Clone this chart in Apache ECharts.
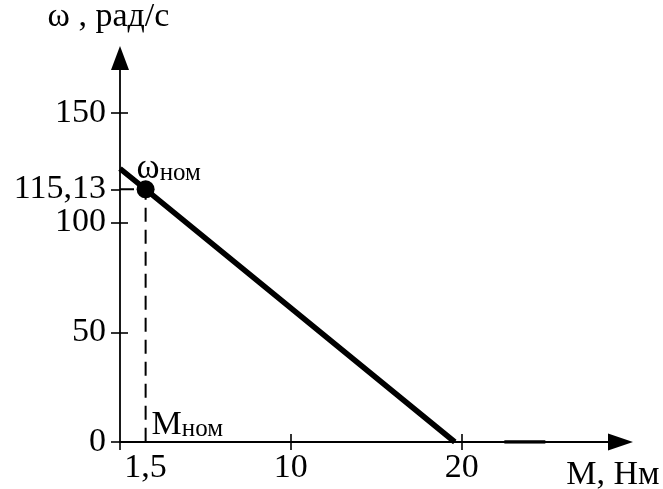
<!DOCTYPE html>
<html>
<head>
<meta charset="utf-8">
<script src="https://cdn.jsdelivr.net/npm/echarts@6/dist/echarts.min.js"></script>
<style>
  html, body { margin: 0; padding: 0; background: #fff; }
  #chart { width: 663px; height: 489px; }
</style>
</head>
<body>
<div id="chart"></div>
<script>
// Mechanical characteristic ω(M) of the motor
const torqueLine = [0, 1.5, 19.6];            // M, Нм
const speedLine = [124.6, 115.13, 0];          // ω, рад/с
const nominalTorque = 1.5;                     // Mном
const nominalSpeed = 115.13;                   // ωном

// Tick labels on each axis
const xTickLabels = [1.5, 10, 20];
const yTickLabels = [0, 50, 100, 115.13, 150];

// short heavier stroke lying on the torque axis
const axisStroke = [22.5, 24.9];

const serif = 'Liberation Serif';
const black = '#000';
const fmt = v => String(v).replace('.', ',');

const chart = echarts.init(document.getElementById('chart'), null, { renderer: 'canvas' });

const xRange = { min: 0, max: 29.3 };
const yRange = { min: 0, max: 175 };
const tickStyle = { color: black, width: 1.6 };

chart.setOption({
  animation: false,
  backgroundColor: '#fff',
  grid: { left: 120, right: 42.5, top: 58, bottom: 47, outerBoundsMode: 'none', containLabel: false },
  xAxis: [
    {
      type: 'value', position: 'bottom', ...xRange,
      splitLine: { show: false },
      name: 'M, Нм', nameLocation: 'end', nameGap: 39,
      nameTextStyle: { fontFamily: serif, fontSize: 34, color: black, align: 'right', verticalAlign: 'top', padding: [16, 0, 0, 0] },
      axisLine: { show: true, onZero: false, symbol: ['none', 'triangle'], symbolSize: [17, 25], lineStyle: { color: black, width: 1.8 } },
      axisTick: { show: true, customValues: [0, 10, 20], length: 8, lineStyle: tickStyle },
      axisLabel: { customValues: xTickLabels, formatter: fmt, fontFamily: serif, fontSize: 34, color: black, margin: 9 }
    },
    {
      type: 'value', position: 'bottom', ...xRange,
      splitLine: { show: false },
      axisLine: { show: false, onZero: false },
      axisTick: { show: true, inside: true, customValues: [10, 20], length: 8, lineStyle: tickStyle },
      axisLabel: { show: false }
    }
  ],
  yAxis: [
    {
      type: 'value', position: 'left', ...yRange,
      splitLine: { show: false },
      name: 'ω , рад/с', nameLocation: 'end', nameGap: 24,
      nameTextStyle: { fontFamily: serif, fontSize: 34, color: black, align: 'center', padding: [0, 23, 0, 0] },
      axisLine: { show: true, onZero: false, symbol: ['none', 'triangle'], symbolSize: [18, 24], lineStyle: { color: black, width: 1.8 } },
      axisTick: { show: true, customValues: [0, 50, 100, 115.13, 150], length: 9, lineStyle: tickStyle },
      axisLabel: { customValues: yTickLabels, formatter: fmt, fontFamily: serif, fontSize: 34, color: black, margin: 14 }
    },
    {
      type: 'value', position: 'left', ...yRange,
      splitLine: { show: false },
      axisLine: { show: false, onZero: false },
      axisTick: { show: true, inside: true, customValues: [50, 100, 150], length: 8, lineStyle: tickStyle },
      axisLabel: { show: false }
    }
  ],
  series: [
    {
      type: 'line', name: 'guides',
      data: [[0, nominalSpeed], [nominalTorque, nominalSpeed], [nominalTorque, 0]],
      showSymbol: false, silent: true,
      lineStyle: { color: black, width: 2, type: [14, 8] },
      z: 2
    },
    {
      type: 'line', name: 'axisStroke',
      data: axisStroke.map(x => [x, 0]),
      showSymbol: false, silent: true,
      lineStyle: { color: black, width: 3.5 },
      z: 2
    },
    {
      type: 'line', name: 'ω(M)',
      data: torqueLine.map((m, i) => [m, speedLine[i]]),
      showSymbol: false,
      lineStyle: { color: black, width: 5.5, cap: 'butt' },
      z: 3
    },
    {
      type: 'scatter', name: 'nominal',
      data: [[nominalTorque, nominalSpeed]],
      symbol: 'circle', symbolSize: 18,
      itemStyle: { color: black, opacity: 1 },
      label: {
        show: true, position: [0, 6], align: 'left', verticalAlign: 'bottom',
        formatter: '{w|ω}{s|ном}',
        rich: {
          w: { fontFamily: serif, fontSize: 35, color: black, verticalAlign: 'bottom' },
          s: { fontFamily: serif, fontSize: 25, color: black, verticalAlign: 'bottom' }
        }
      },
      z: 4
    },
    {
      type: 'scatter', name: 'nominalTorque',
      data: [[nominalTorque, 0]],
      symbolSize: 0,
      itemStyle: { opacity: 1 },
      label: {
        show: true, position: [6, 0], align: 'left', verticalAlign: 'bottom',
        formatter: '{m|M}{s|ном}',
        rich: {
          m: { fontFamily: serif, fontSize: 34, color: black, verticalAlign: 'bottom' },
          s: { fontFamily: serif, fontSize: 25, color: black, verticalAlign: 'bottom' }
        }
      },
      z: 4
    }
  ]
});
</script>
</body>
</html>
